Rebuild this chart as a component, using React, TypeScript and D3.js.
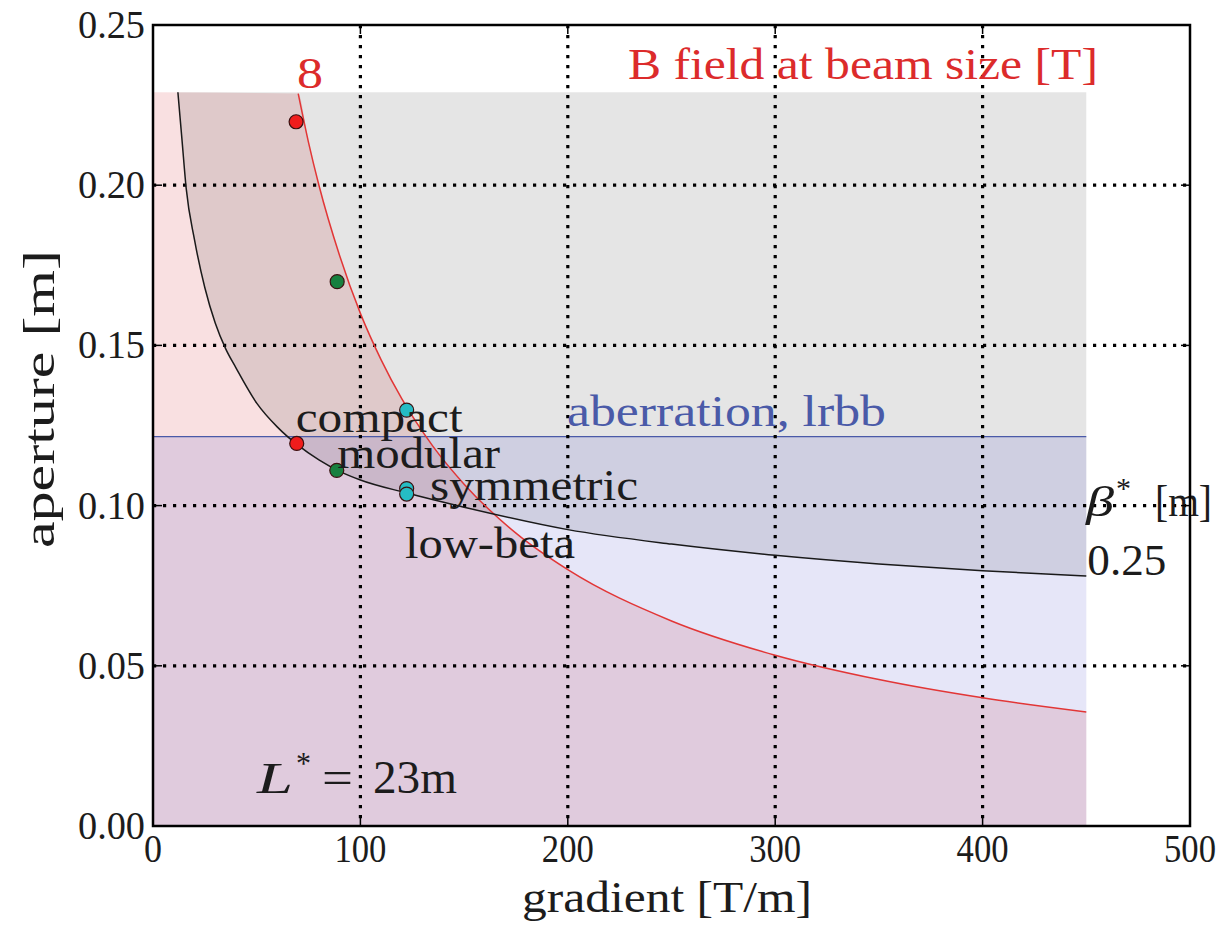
import React, { useEffect, useRef } from "react";
import * as d3 from "d3";

const W = 1223;
const H = 926;

const xTicks = [0, 100, 200, 300, 400, 500];
const yTicks = [0, 0.05, 0.1, 0.15, 0.2, 0.25];
const yTickLabels = ["0.00", "0.05", "0.10", "0.15", "0.20", "0.25"];
const gridX = [100, 200, 300, 400];
const gridY = [0.05, 0.1, 0.15, 0.2];

// 8 T contour: B field at beam size [T] (gradient, aperture)
const bField8T: [number, number][] = [
  [70, 0.2286], [75, 0.2133], [80, 0.2], [90, 0.178], [100, 0.16], [110, 0.1455],
  [120, 0.1333], [135, 0.1185], [150, 0.1067], [175, 0.0914], [200, 0.08],
  [250, 0.064], [300, 0.0533], [350, 0.0457], [400, 0.04], [450, 0.0356],
];

// beta* = 0.25 m aperture curve (gradient, aperture)
const beta025: [number, number][] = [
  [12, 0.229], [14, 0.214], [16, 0.199], [20, 0.183], [25, 0.168], [30, 0.157],
  [35, 0.149], [40, 0.143], [50, 0.132], [60, 0.1245], [70, 0.1188], [80, 0.1143],
  [90, 0.1107], [100, 0.108], [122, 0.104], [150, 0.0995], [200, 0.0925],
  [250, 0.088], [300, 0.0845], [350, 0.0818], [400, 0.0797], [450, 0.078],
];

const regionTop = 0.229;
const regionRight = 450;
const aberrationLimit = 0.1215;

// design points
const pointG = [69, 69.3, 88.8, 88.6, 122.3, 122.3, 122.3];
const pointA = [0.2198, 0.1194, 0.1699, 0.111, 0.1298, 0.1053, 0.1036];
const pointColor = ["#f01c1c", "#f01c1c", "#17803f", "#17803f", "#25bcc4", "#25bcc4", "#25bcc4"];

// design labels: text, gradient, aperture (baseline)
const designLabels = ["compact", "modular", "symmetric", "low-beta"];
const designLabelG = [68.8, 88.8, 133.6, 121.5];
const designLabelA = [0.123, 0.1117, 0.1017, 0.0836];
const designLabelW = [167, 163, 208, 170];

const FONT = "Liberation Serif";
const INK = "#1c1c1c";

const App = () => {
  const svgRef = useRef<SVGSVGElement>(null);

  useEffect(() => {
    const svg = d3.select(svgRef.current);
    svg.selectAll("*").remove();

    const x = d3.scaleLinear().domain([0, 500]).range([153, 1190]);
    const y = d3.scaleLinear().domain([0, 0.25]).range([826, 25]);

    svg.append("rect").attr("width", W).attr("height", H).attr("fill", "#fff");

    // shaded regions
    const pinkData: [number, number][] = [[0, regionTop], ...bField8T];
    svg
      .append("path")
      .datum(pinkData)
      .attr("fill", "#f9e0e1")
      .attr(
        "d",
        d3
          .area<[number, number]>()
          .x((d) => x(d[0]))
          .y0(y(0))
          .y1((d) => y(Math.min(d[1], regionTop)))
          .curve(d3.curveMonotoneX)
      );

    svg
      .append("path")
      .datum(beta025)
      .attr("fill", "#000")
      .attr("fill-opacity", 0.1)
      .attr(
        "d",
        d3
          .area<[number, number]>()
          .x((d) => x(d[0]))
          .y0((d) => y(d[1]))
          .y1(y(regionTop))
          .curve(d3.curveMonotoneX)
      );

    svg
      .append("rect")
      .attr("x", x(0))
      .attr("y", y(aberrationLimit))
      .attr("width", x(regionRight) - x(0))
      .attr("height", y(0) - y(aberrationLimit))
      .attr("fill", "#4040c8")
      .attr("fill-opacity", 0.13);

    svg
      .append("line")
      .attr("x1", x(0))
      .attr("x2", x(regionRight))
      .attr("y1", y(aberrationLimit))
      .attr("y2", y(aberrationLimit))
      .attr("stroke", "#4a5aa8")
      .attr("stroke-width", 1.3);

    // dotted grid
    gridX.forEach((g) => {
      svg
        .append("line")
        .attr("x1", x(g))
        .attr("x2", x(g))
        .attr("y1", y(0.25))
        .attr("y2", y(0))
        .attr("stroke", "#000")
        .attr("stroke-width", 3.2)
        .attr("stroke-dasharray", "3.2 6.8");
    });
    gridY.forEach((v) => {
      svg
        .append("line")
        .attr("x1", x(0))
        .attr("x2", x(500))
        .attr("y1", y(v))
        .attr("y2", y(v))
        .attr("stroke", "#000")
        .attr("stroke-width", 3.2)
        .attr("stroke-dasharray", "3.2 6.8");
    });

    // curves
    const line = d3
      .line<[number, number]>()
      .x((d) => x(d[0]))
      .y((d) => y(d[1]))
      .curve(d3.curveMonotoneX);

    svg
      .append("path")
      .datum(bField8T)
      .attr("fill", "none")
      .attr("stroke", "#e23636")
      .attr("stroke-width", 1.5)
      .attr("d", line);

    svg
      .append("path")
      .datum(beta025)
      .attr("fill", "none")
      .attr("stroke", "#1a1a1a")
      .attr("stroke-width", 1.5)
      .attr("d", line);

    // design points
    svg
      .selectAll("circle.pt")
      .data(pointG)
      .enter()
      .append("circle")
      .attr("cx", (d) => x(d))
      .attr("cy", (_d, i) => y(pointA[i]))
      .attr("r", 7)
      .attr("fill", (_d, i) => pointColor[i])
      .attr("stroke", "#3a1010")
      .attr("stroke-width", 1.2);

    // plain text helper
    const txt = (
      s: string,
      px: number,
      py: number,
      size: number,
      color: string,
      width?: number,
      anchor = "start",
      italic = false
    ) => {
      const t = svg
        .append("text")
        .attr("x", px)
        .attr("y", py)
        .style("font-family", FONT)
        .attr("font-size", size)
        .attr("fill", color)
        .attr("text-anchor", anchor)
        .text(s);
      if (italic) t.attr("font-style", "italic");
      if (width) t.attr("textLength", width).attr("lengthAdjust", "spacingAndGlyphs");
      return t;
    };

    designLabels.forEach((s, i) => {
      txt(s, x(designLabelG[i]), y(designLabelA[i]), 44, INK, designLabelW[i]);
    });

    txt("B field at beam size [T]", x(229), y(0.2331), 44, "#dc2b2b", 470);
    txt("8", x(69.4), y(0.2303), 44, "#dc2b2b", 26);
    txt("aberration, lrbb", x(199.6), y(0.1248), 44, "#4a5aa8", 319);
    txt("0.25", x(450.5), y(0.0783), 44, INK, 79);

    // beta* [m]
    txt("β", 1086, 516, 42, INK, 28, "start", true);
    txt("*", 1116, 498, 30, INK, 15);
    txt("[m]", 1155, 516, 44, INK, 57);

    // L* = 23m
    txt("L", 257, 793, 44, INK, 36, "start", true);
    txt("*", 296, 774, 31, INK, 15);
    txt("=", 322, 793, 46, INK, 31);
    txt("23m", 373, 793, 46, INK, 84);

    // frame ticks
    const tickLen = 9;
    xTicks.forEach((g) => {
      [y(0), y(0.25)].forEach((yy, k) => {
        svg
          .append("line")
          .attr("x1", x(g))
          .attr("x2", x(g))
          .attr("y1", yy)
          .attr("y2", k === 0 ? yy - tickLen : yy + tickLen)
          .attr("stroke", "#000")
          .attr("stroke-width", 1.5);
      });
      txt(String(g), x(g), 862, 40, INK, g === 0 ? 18 : 52, "middle");
    });
    yTicks.forEach((v, i) => {
      [x(0), x(500)].forEach((xx, k) => {
        svg
          .append("line")
          .attr("x1", xx)
          .attr("x2", k === 0 ? xx + tickLen : xx - tickLen)
          .attr("y1", y(v))
          .attr("y2", y(v))
          .attr("stroke", "#000")
          .attr("stroke-width", 1.5);
      });
      txt(yTickLabels[i], x(0) - 8, y(v) + 13, 40, INK, 67, "end");
    });

    // axis labels
    txt("gradient [T/m]", 667, 912, 44, INK, 290, "middle");
    txt("aperture [m]", 0, 0, 44, INK, 298, "middle").attr(
      "transform",
      "translate(54,399) rotate(-90)"
    );

    // frame
    svg
      .append("rect")
      .attr("x", x(0))
      .attr("y", y(0.25))
      .attr("width", x(500) - x(0))
      .attr("height", y(0) - y(0.25))
      .attr("fill", "none")
      .attr("stroke", "#000")
      .attr("stroke-width", 2.5);
  }, []);

  return (
    <svg
      ref={svgRef}
      width={W}
      height={H}
      style={{ position: "absolute", left: 0, top: 0, display: "block" }}
    ></svg>
  );
};

export default App;
